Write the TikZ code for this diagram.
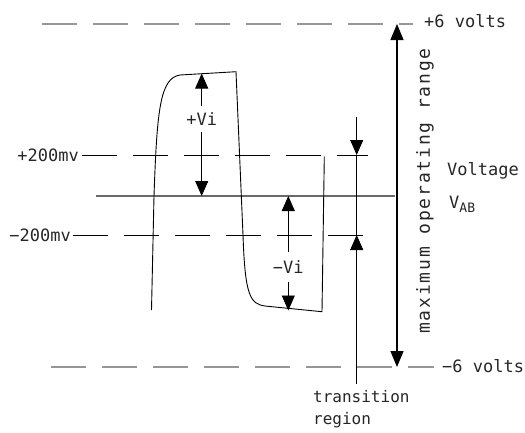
\documentclass[tikz,border=0pt]{standalone}
\usepackage{fontspec}
\setmainfont{DejaVu Sans Mono}
\newfontfamily\spacedfont{DejaVu Sans Mono}[LetterSpace=10]
\usepackage{tikz}
\usetikzlibrary{arrows.meta, positioning}
\definecolor{railgray}{RGB}{150,150,150}
\definecolor{zerogray}{RGB}{105,105,105}

\begin{document}
\begin{tikzpicture}[x=1pt, y=-1pt,
    railline/.style={draw=railgray, line width=2pt, dash pattern=on 35pt off 16pt},
    levelline/.style={draw=black, line width=0.9pt, dash pattern=on 35pt off 16pt},
    zeroline/.style={draw=zerogray, line width=1.1pt},
    wave/.style={draw=black, line width=0.9pt},
    dimarrow/.style={-{Triangle[length=15pt, width=13pt]}, line width=0.9pt, draw=black},
    rangearrow/.style={{Triangle[length=16pt, width=13pt]}-{Triangle[length=16pt, width=13pt]}, line width=1.2pt, draw=black},
    voltlabel/.style={font=\fontsize{17}{22}\selectfont, inner sep=0pt, text=black!85},
    vilabel/.style={font=\fontsize{17}{22}\selectfont, inner sep=6.5pt, text=black!85}
]
\useasboundingbox (0,0) rectangle (525,432);

% Supply rails: +6 and -6 volts
\draw[railline] (42,24) -- (413,24);
\draw[railline] (51,367) -- (434,367);
\node[voltlabel, anchor=west] (plus6) at (424,21) {+6 volts};
\node[voltlabel, anchor=west] (minus6) at (442,366) {−6 volts};

% Threshold levels and zero line
\node[voltlabel, anchor=east] (p200) at (79,155) {+200mv};
\node[voltlabel, anchor=east] (m200) at (71,235) {−200mv};
\draw[levelline] ([xshift=3pt]p200.east) -- (368,155);
\draw[levelline] ([xshift=2pt]m200.east) -- (369,235);
\draw[zeroline] (96,196) -- (395,196);

% Differential waveform
\draw[wave] (151.5,310) -- (154,196) .. controls (157,110) and (160,78) .. (180,75)
    -- (236,71.7) -- (243,235) .. controls (245,295) and (250,304) .. (265,306)
    -- (322,311.7) -- (324.3,156.7);

% +Vi and -Vi amplitudes
\coordinate (pvitop) at (201.7,73.5);
\coordinate (pvibot) at (201.7,196);
\node[vilabel] (pvi) at (201.7,119) {+Vi};
\draw[dimarrow] (pvi) -- (pvitop);
\draw[dimarrow] (pvi) -- (pvibot);

\coordinate (mvitop) at (288.3,196);
\coordinate (mvibot) at (288.3,310.5);
\node[vilabel, inner sep=8pt] (mvi) at (288.3,267) {−Vi};
\draw[dimarrow] (mvi) -- (mvitop);
\draw[dimarrow] (mvi) -- (mvibot);

% Transition region
\coordinate (trtop) at (356.7,117);
\coordinate (trhi) at (356.7,155);
\coordinate (trlo) at (356.7,235);
\coordinate (trbot) at (356.7,384);
\draw[dimarrow] (trtop) -- (trhi);
\draw[dimarrow] (trbot) -- (trlo);
\draw[line width=0.9pt] (trhi) -- (trlo);
\node[voltlabel, anchor=north west, align=left, font=\fontsize{16}{22}\selectfont] (trans) at (313,390) {transition\\region};

% Maximum operating range
\coordinate (rangetop) at (397,24);
\coordinate (rangebot) at (397,367);
\draw[rangearrow] (rangetop) -- (rangebot);
\node[voltlabel, rotate=90, font=\spacedfont\fontsize{18}{22}\selectfont] (maxrange) at (425,191) {maximum operating range};

% Axis name
\node[voltlabel, anchor=west] (voltage) at (447,171) {Voltage};
\node[voltlabel, anchor=west] (vab) at (449,204) {V\raisebox{-4pt}{\fontsize{13}{13}\selectfont AB}};

\end{tikzpicture}
\end{document}
